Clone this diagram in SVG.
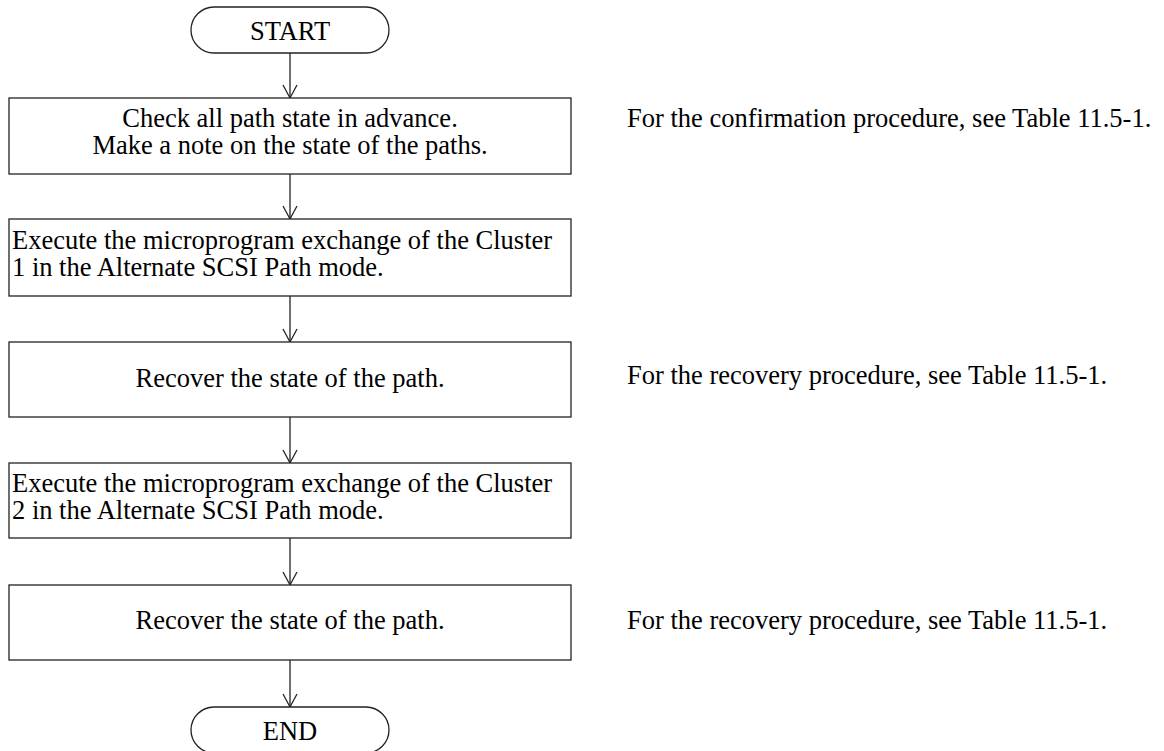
<svg xmlns="http://www.w3.org/2000/svg" width="1164" height="751" viewBox="0 0 1164 751">
<style>
.shape{fill:#fff;stroke:#222;stroke-width:1.3}
.conn{stroke:#222;stroke-width:1.3;fill:none}
text{font-family:"Liberation Serif","Times New Roman",serif;font-size:26.5px;fill:#000}
.c{text-anchor:middle}
</style>
<defs>
<marker id="arr" markerUnits="userSpaceOnUse" viewBox="0 0 16 16" refX="14" refY="8" markerWidth="16" markerHeight="16" orient="auto">
<path d="M1,1 L14,8 L1,15" fill="none" stroke="#222" stroke-width="1.3"/>
</marker>
</defs>
<rect width="1164" height="751" fill="#fff"/>
<g id="connectors">
<line class="conn" x1="290" y1="53" x2="290" y2="98" marker-end="url(#arr)"/>
<line class="conn" x1="290" y1="174" x2="290" y2="219" marker-end="url(#arr)"/>
<line class="conn" x1="290" y1="296" x2="290" y2="342" marker-end="url(#arr)"/>
<line class="conn" x1="290" y1="417" x2="290" y2="463" marker-end="url(#arr)"/>
<line class="conn" x1="290" y1="538" x2="290" y2="585" marker-end="url(#arr)"/>
<line class="conn" x1="290" y1="660" x2="290" y2="707" marker-end="url(#arr)"/>
</g>
<g id="start">
<rect class="shape" x="191" y="7" width="198" height="46" rx="23" ry="23"/>
<text class="c" x="290" y="40">START</text>
</g>
<g id="step1">
<rect class="shape" x="9" y="98" width="562" height="76"/>
<text class="c" x="290" y="127">Check all path state in advance.</text>
<text class="c" x="290" y="154">Make a note on the state of the paths.</text>
</g>
<g id="step2">
<rect class="shape" x="9" y="219" width="562" height="77"/>
<text x="12" y="249">Execute the microprogram exchange of the Cluster</text>
<text x="12" y="276">1 in the Alternate SCSI Path mode.</text>
</g>
<g id="step3">
<rect class="shape" x="9" y="342" width="562" height="75"/>
<text class="c" x="290" y="387">Recover the state of the path.</text>
</g>
<g id="step4">
<rect class="shape" x="9" y="463" width="562" height="75"/>
<text x="12" y="492">Execute the microprogram exchange of the Cluster</text>
<text x="12" y="519">2 in the Alternate SCSI Path mode.</text>
</g>
<g id="step5">
<rect class="shape" x="9" y="585" width="562" height="75"/>
<text class="c" x="290" y="629">Recover the state of the path.</text>
</g>
<g id="end">
<rect class="shape" x="191" y="707" width="198" height="46" rx="23" ry="23"/>
<text class="c" x="290" y="740">END</text>
</g>
<g id="notes">
<text x="627" y="127">For the confirmation procedure, see Table 11.5-1.</text>
<text x="627" y="384">For the recovery procedure, see Table 11.5-1.</text>
<text x="627" y="629">For the recovery procedure, see Table 11.5-1.</text>
</g>
</svg>
